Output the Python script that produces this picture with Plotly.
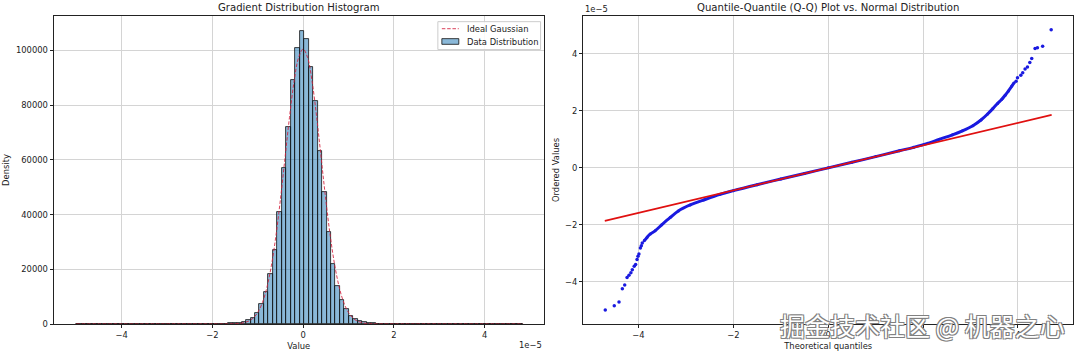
import plotly.graph_objects as go

# ---------------- data (values in units of 1e-5 where noted) ----------------
value_scale = 1e-5

# histogram: 100 equal bins between hist_min and hist_max (1e-5 units), density values
hist_min = -5.00
hist_max = 4.85
hist_density = [
    1.2, 0, 1.2, 1.2, 0, 1.2, 1.2, 2.4, 1.2, 2.4,
    1.2, 2.4, 2.4, 1.2, 2.4, 3.6, 2.4, 3.6, 4.8, 3.6,
    6, 7, 8, 10, 12, 16, 20, 25, 32, 40,
    50, 65, 90, 130, 190, 290, 450, 800, 1300, 2300,
    4000, 7200, 11600, 18400, 26900, 40900, 57100, 72200, 89100, 100900,
    107100, 104200, 93800, 81400, 63400, 48100, 33800, 21800, 13800, 8900,
    5400, 3000, 1800, 1100, 600, 360, 220, 150, 100, 70,
    50, 40, 32, 25, 20, 16, 12, 10, 8, 6,
    5, 4.8, 3.6, 3.6, 2.4, 2.4, 2.4, 1.2, 2.4, 1.2,
    1.2, 1.2, 1.2, 0, 1.2, 1.2, 0, 0, 0, 1.2,
]

# ideal gaussian curve (x in 1e-5 units)
gauss_x = [-5.0, -2.0, -1.6, -1.4, -1.2, -1.1, -1.0, -0.9, -0.8, -0.7, -0.6, -0.5,
           -0.4, -0.3, -0.2, -0.1, 0.0, 0.1, 0.2, 0.3, 0.4, 0.5, 0.6, 0.7, 0.8,
           0.9, 1.0, 1.1, 1.2, 1.4, 1.6, 2.0, 4.85]
gauss_y = [0, 0, 30, 200, 1040, 2160, 4210, 7690, 13200, 21240, 32070, 45470,
           60490, 75540, 88520, 97360, 100500, 97360, 88520, 75540, 60490, 45470,
           32070, 21240, 13200, 7690, 4210, 2160, 1040, 200, 30, 0, 0]

# Q-Q plot: theoretical quantiles vs ordered values (1e-5 units)
qq_dense_x = [-3.88, -3.82, -3.75, -3.65, -3.51, -3.33, -3.16, -2.91, -2.63, -2.28,
              -2.0, -1.5, -1.0, -0.5, 0.0, 0.5, 1.0, 1.5, 1.8, 2.1, 2.34, 2.62, 2.83,
              3.05, 3.22, 3.36, 3.47, 3.57, 3.66, 3.73, 3.80, 3.87, 3.92]
qq_dense_y = [-2.56, -2.44, -2.32, -2.21, -2.00, -1.74, -1.51, -1.30, -1.13, -0.93,
              -0.80, -0.59, -0.39, -0.195, 0.0, 0.195, 0.395, 0.60, 0.72, 0.86, 1.00, 1.16,
              1.30, 1.48, 1.68, 1.89, 2.08, 2.26, 2.41, 2.55, 2.70, 2.87, 2.99]
qq_tail_x = [-4.70, -4.51, -4.41, -4.34, -4.29, -4.24, -4.20, -4.16, -4.13, -4.09,
             -4.06, -4.03, -4.01, -3.99, -3.96, -3.94, -3.92,
             3.96, 3.99, 4.06, 4.10, 4.15, 4.20, 4.25, 4.29, 4.36, 4.41, 4.52, 4.70]
qq_tail_y = [-4.99, -4.84, -4.71, -4.24, -4.11, -3.85, -3.77, -3.68, -3.58, -3.45,
             -3.39, -3.22, -3.10, -3.02, -2.81, -2.73, -2.64,
             3.04, 3.16, 3.25, 3.34, 3.47, 3.54, 3.70, 3.84, 4.19, 4.22, 4.27, 4.85]
qq_line_x = [-4.71, 4.71]
qq_line_y = [-1.86, 1.86]

# tick labels
x_tick_vals = [-4, -2, 0, 2, 4]
x_tick_text = ["\u22124", "\u22122", "0", "2", "4"]
hist_y_ticks = [0, 20000, 40000, 60000, 80000, 100000]
qq_y_ticks = [-4, -2, 0, 2, 4]
qq_y_text = ["\u22124", "\u22122", "0", "2", "4"]

legend_labels = ["Ideal Gaussian", "Data Distribution"]

# ---------------- figure ----------------
W, H = 1080, 355
ML, MR, MT, MB = 52, 6, 16, 29
PW = W - ML - MR
PH = H - MT - MB


def px_x(p):
    return (p - ML) / PW


def px_y(p):
    return 1 - (p - MT) / PH


FONT = "DejaVu Sans"
TXT = "#222222"
GRID = "#d4d4d4"
BAR_FILL = "rgba(31,119,180,0.52)"
GAUSS_COL = "rgba(210,30,60,0.85)"
GAUSS_DASH = "3.5px,1.8px"
QQ_BLUE = "#1a1ae0"

n_bins = len(hist_density)
bw = (hist_max - hist_min) / n_bins
bin_centers = [(hist_min + (i + 0.5) * bw) * value_scale for i in range(n_bins)]

fig = go.Figure()

fig.add_trace(go.Bar(
    x=bin_centers, y=hist_density, width=bw * value_scale,
    marker=dict(color=BAR_FILL, line=dict(color="#111111", width=0.8)),
    name=legend_labels[1], showlegend=False, xaxis="x", yaxis="y",
))
fig.add_trace(go.Scatter(
    x=[v * value_scale for v in gauss_x], y=gauss_y, mode="lines",
    line=dict(color=GAUSS_COL, width=1, dash=GAUSS_DASH, shape="spline"),
    name=legend_labels[0], showlegend=False, xaxis="x", yaxis="y",
))

fig.add_trace(go.Scatter(
    x=qq_dense_x, y=[v * value_scale for v in qq_dense_y], mode="lines+markers",
    line=dict(color=QQ_BLUE, width=3, shape="spline"), marker=dict(color=QQ_BLUE, size=3),
    showlegend=False, xaxis="x2", yaxis="y2",
))
fig.add_trace(go.Scatter(
    x=qq_tail_x, y=[v * value_scale for v in qq_tail_y], mode="markers",
    marker=dict(color=QQ_BLUE, size=3.5), showlegend=False, xaxis="x2", yaxis="y2",
))
fig.add_trace(go.Scatter(
    x=qq_line_x, y=[v * value_scale for v in qq_line_y], mode="lines",
    line=dict(color="#e01010", width=1.6), showlegend=False, xaxis="x2", yaxis="y2",
))

axis_common = dict(
    showline=True, linecolor="#222222", linewidth=0.8, mirror=True,
    ticks="outside", ticklen=3.5, tickwidth=0.8, tickcolor="#222222",
    showgrid=True, gridcolor=GRID, gridwidth=0.8, zeroline=False,
    tickfont=dict(family=FONT, size=8.4, color=TXT),
)

left_end = px_x(543)
right_start = px_x(583)

fig.update_layout(
    width=W, height=H,
    margin=dict(l=ML, r=MR, t=MT, b=MB),
    paper_bgcolor="white", plot_bgcolor="white",
    font=dict(family=FONT, size=8.4, color=TXT),
    bargap=0, showlegend=False,
    xaxis=dict(axis_common, domain=[0, left_end], anchor="y",
               range=[-5.49e-5, 5.30e-5],
               tickvals=[v * value_scale for v in x_tick_vals], ticktext=x_tick_text,
               title=dict(text="Value", font=dict(family=FONT, size=8.4, color=TXT), standoff=3)),
    yaxis=dict(axis_common, domain=[0, 1], anchor="x", range=[0, 112600],
               tickvals=hist_y_ticks, ticktext=[str(v) for v in hist_y_ticks],
               title=dict(text="Density", font=dict(family=FONT, size=8.4, color=TXT), standoff=4)),
    xaxis2=dict(axis_common, domain=[right_start, 1], anchor="y2",
                range=[-5.16, 5.16], tickvals=x_tick_vals, ticktext=x_tick_text,
                title=dict(text="Theoretical quantiles", font=dict(family=FONT, size=8.4, color=TXT), standoff=3)),
    yaxis2=dict(axis_common, domain=[0, 1], anchor="x2", range=[-5.48e-5, 5.33e-5],
                tickvals=[v * value_scale for v in qq_y_ticks], ticktext=qq_y_text,
                title=dict(text="Ordered Values", font=dict(family=FONT, size=8.4, color=TXT), standoff=4)),
)

# legend drawn like matplotlib's (compact rows)
shapes = [
    dict(type="rect", xref="paper", yref="paper", x0=px_x(437), x1=px_x(540),
         y0=px_y(49.8), y1=px_y(21.7), line=dict(color="#cccccc", width=1),
         fillcolor="rgba(255,255,255,0.85)", layer="above"),
    dict(type="line", xref="paper", yref="paper", x0=px_x(441), x1=px_x(458),
         y0=px_y(28.8), y1=px_y(28.8), line=dict(color=GAUSS_COL, width=1, dash=GAUSS_DASH),
         layer="above"),
    dict(type="rect", xref="paper", yref="paper", x0=px_x(441), x1=px_x(458),
         y0=px_y(44.5), y1=px_y(38.8), line=dict(color="#111111", width=0.8),
         fillcolor=BAR_FILL, layer="above"),
]
fig.update_layout(shapes=shapes)

annos = [
    dict(text="Gradient Distribution Histogram", x=left_end / 2, y=1, xref="paper", yref="paper",
         xanchor="center", yanchor="bottom", yshift=1, showarrow=False,
         font=dict(family=FONT, size=10.1, color=TXT)),
    dict(text="Quantile-Quantile (Q-Q) Plot vs. Normal Distribution", x=(right_start + 1) / 2, y=1,
         xref="paper", yref="paper", xanchor="center", yanchor="bottom", yshift=1, showarrow=False,
         font=dict(family=FONT, size=10.1, color=TXT)),
    dict(text=legend_labels[0], x=px_x(464), y=px_y(28.8), xref="paper", yref="paper",
         xanchor="left", yanchor="middle", showarrow=False, font=dict(family=FONT, size=8.4, color=TXT)),
    dict(text=legend_labels[1], x=px_x(464), y=px_y(41.7), xref="paper", yref="paper",
         xanchor="left", yanchor="middle", showarrow=False, font=dict(family=FONT, size=8.4, color=TXT)),
    dict(text="1e\u22125", x=left_end, y=0, xref="paper", yref="paper", xanchor="right",
         yanchor="middle", yshift=-21, showarrow=False, font=dict(family=FONT, size=8.4, color=TXT)),
    dict(text="1e\u22125", x=right_start, y=1, xref="paper", yref="paper", xanchor="left",
         yanchor="middle", yshift=7, showarrow=False, font=dict(family=FONT, size=8.4, color=TXT)),
    dict(text="掘金技术社区 @ 机器之心", x=px_x(923), y=px_y(327), xref="paper", yref="paper",
         xanchor="center", yanchor="middle", showarrow=False,
         font=dict(family="Noto Sans CJK SC", size=25, color="white",
                   shadow="-1px -1px 0 #808080, 1px -1px 0 #808080, -1px 1px 0 #808080, 1px 1px 0 #808080")),
]
fig.update_layout(annotations=annos)

fig.write_html("out.html")
